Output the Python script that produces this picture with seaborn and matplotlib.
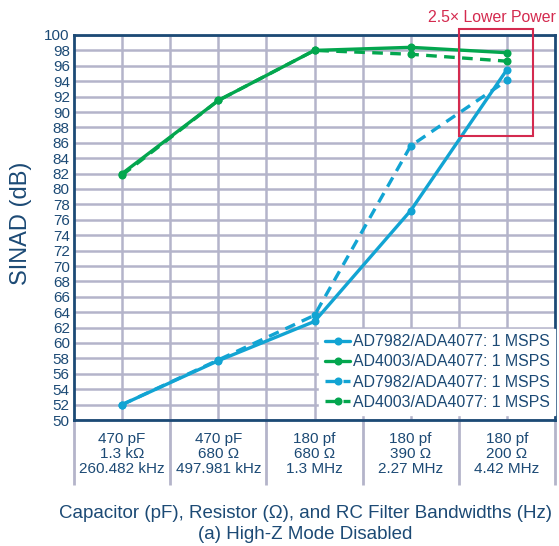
import numpy as np
import pandas as pd
import matplotlib
matplotlib.use("Agg")
import matplotlib.pyplot as plt
from matplotlib.patches import Rectangle
from matplotlib.ticker import FixedLocator
import seaborn as sns

categories = ["470 pF\n1.3 k\u03a9\n260.482 kHz",
              "470 pF\n680 \u03a9\n497.981 kHz",
              "180 pf\n680 \u03a9\n1.3 MHz",
              "180 pf\n390 \u03a9\n2.27 MHz",
              "180 pf\n200 \u03a9\n4.42 MHz"]
ad7982_solid = [52.0, 57.7, 62.8, 77.2, 95.5]
ad4003_solid = [82.0, 91.5, 98.0, 98.4, 97.7]
ad7982_dash = [52.0, 57.8, 63.6, 85.6, 94.1]
ad4003_dash = [81.8, 91.5, 98.0, 97.5, 96.6]
series_names = ["AD7982/ADA4077: 1 MSPS", "AD4003/ADA4077: 1 MSPS",
                "AD7982/ADA4077: 1 MSPS ", "AD4003/ADA4077: 1 MSPS  "]
y_ticks = list(range(50, 101, 2))
annotation = "2.5\u00d7 Lower Power"

sns.set_theme(style="white")
plt.rcParams['font.family'] = ['Liberation Sans', 'DejaVu Sans']

BLUE = "#12A4D3"
GREEN = "#03A64E"
NAVY = "#1C4A75"
GRID = "#B4B4CA"
RED = "#D42A4F"

fig = plt.figure(figsize=(5.59, 5.46), dpi=100)
ax = fig.add_axes([74/559, 1-420/546, (555-74)/559, (420-35)/546])

pos = np.arange(len(categories)) + 0.5
df = pd.DataFrame({"x": np.tile(pos, 4),
                   "y": ad7982_solid + ad4003_solid + ad7982_dash + ad4003_dash,
                   "s": np.repeat(series_names, len(categories))})

styles = [(BLUE, "-"), (GREEN, "-"), (BLUE, (0, (3.2, 2.2))), (GREEN, (0, (3.2, 2.2)))]
order = [1, 3, 2, 0]
for i in order:
    name = series_names[i]
    c, ls = styles[i]
    sub = df[df.s == name]
    sns.lineplot(data=sub, x="x", y="y", ax=ax, color=c, linestyle=ls,
                 linewidth=2.4, marker="o", markersize=5.8,
                 markeredgewidth=0, label=name, zorder=3 + i)

ax.set_xlim(0, 5)
ax.set_ylim(50, 100)
ax.set_yticks(y_ticks)
ax.set_xticks(pos)
ax.set_xticklabels(categories, fontsize=11, color=NAVY, linespacing=1.05)
ax.xaxis.set_minor_locator(FixedLocator(np.arange(0, 5.01, 1.0)))
ax.tick_params(axis="x", which="major", length=0, pad=9)
ax.tick_params(axis="x", which="minor", length=47, width=2, color=GRID,
               direction="out", bottom=True)
ax.tick_params(axis="y", which="major", length=0, pad=3, labelsize=11, labelcolor=NAVY)

# grid every half category
ax.set_axisbelow(True)
for xv in np.arange(0.5, 5, 0.5):
    ax.axvline(xv, color=GRID, lw=1.8, zorder=0)
for yv in y_ticks:
    ax.axhline(yv, color=GRID, lw=1.8, zorder=0)

for sp in ax.spines.values():
    sp.set_color(NAVY)
    sp.set_linewidth(2)
    sp.set_visible(True)

ax.set_ylabel("SINAD (dB)", fontsize=17, color=NAVY)
ax.yaxis.set_label_coords(-0.087, 0.51)
ax.set_xlabel("Capacitor (pF), Resistor (\u03a9), and RC Filter Bandwidths (Hz)\n(a) High-Z Mode Disabled",
              fontsize=13.5, color=NAVY, linespacing=1.3)
ax.xaxis.set_label_coords(0.481, -0.22)
ax.xaxis.label.set_va("top")

rect = Rectangle((4.0, 86.9), 0.77, 13.9, fill=False, edgecolor=RED, lw=1.5,
                 clip_on=False, zorder=10)
ax.add_patch(rect)
ax.text(5.01, 102.3, annotation, color=RED, fontsize=11.4, ha="right", va="center",
        clip_on=False)

handles, labels = ax.get_legend_handles_labels()
hmap = dict(zip(labels, handles))
leg = ax.legend([hmap[n] for n in series_names], [n.strip() for n in series_names],
                loc="lower right", bbox_to_anchor=(1.0, 0.012),
                fontsize=11.4, frameon=True, framealpha=1,
                edgecolor="white", fancybox=False, borderaxespad=0.0,
                handlelength=1.6, handletextpad=0.15, labelspacing=0.33,
                borderpad=0.35)
for t in leg.get_texts():
    t.set_color(NAVY)

fig.savefig("out.png", dpi=100)
